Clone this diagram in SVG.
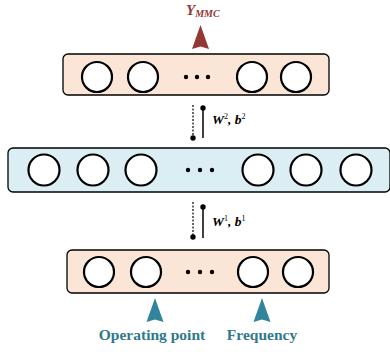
<svg xmlns="http://www.w3.org/2000/svg" width="390" height="352" viewBox="0 0 390 352">
<defs>
<style>
.box{stroke:#000;stroke-width:1.3}
.out{fill:#FBE5D6}
.hid{fill:#DAEEF3}
.n{fill:#fff;stroke:#000;stroke-width:2.2}
.d{fill:#000}
.lbl{font-family:"Liberation Serif",serif;font-weight:bold;font-style:italic;font-size:13.5px;fill:#000}
.in{font-family:"Liberation Serif",serif;font-weight:bold;font-size:15.5px;fill:#31798A}
</style>
</defs>
<g id="output-layer">
<rect class="box out" x="63" y="54" width="266" height="41" rx="5"/>
<circle class="n" cx="97" cy="77" r="15"/>
<circle class="n" cx="143" cy="77" r="15"/>
<circle class="d" cx="186" cy="77" r="2.2"/>
<circle class="d" cx="197" cy="77" r="2.2"/>
<circle class="d" cx="208" cy="77" r="2.2"/>
<circle class="n" cx="252" cy="77" r="15"/>
<circle class="n" cx="296" cy="77" r="15"/>
</g>
<g id="hidden-layer">
<rect class="box hid" x="8" y="148" width="382" height="44" rx="5"/>
<circle class="n" cx="44" cy="170" r="15.5"/>
<circle class="n" cx="93" cy="170" r="15.5"/>
<circle class="n" cx="141" cy="170" r="15.5"/>
<circle class="d" cx="188" cy="170" r="2.2"/>
<circle class="d" cx="200" cy="170" r="2.2"/>
<circle class="d" cx="212" cy="170" r="2.2"/>
<circle class="n" cx="258" cy="170" r="15.5"/>
<circle class="n" cx="306" cy="170" r="15.5"/>
<circle class="n" cx="356" cy="170" r="15.5"/>
</g>
<g id="input-layer">
<rect class="box out" x="67" y="250" width="262" height="43" rx="5"/>
<circle class="n" cx="99" cy="272" r="15"/>
<circle class="n" cx="146" cy="272" r="15"/>
<circle class="d" cx="188" cy="272" r="2.2"/>
<circle class="d" cx="200" cy="272" r="2.2"/>
<circle class="d" cx="212" cy="272" r="2.2"/>
<circle class="n" cx="253" cy="272" r="15"/>
<circle class="n" cx="298" cy="272" r="15"/>
</g>
<g id="output-label">
<path d="M200.5,25 L209,49 L200.5,46.5 L192,49 Z" fill="#953735"/>
<text x="186" y="15" font-family="Liberation Serif,serif" font-weight="bold" font-style="italic" fill="#953735"><tspan font-size="15">Y</tspan><tspan font-size="10" dy="2">MMC</tspan></text>
</g>
<g id="input-labels">
<path d="M155,298 L163.5,322 L155,319.5 L146.5,322 Z" fill="#31849B"/>
<path d="M262,298 L270.5,322 L262,319.5 L253.5,322 Z" fill="#31849B"/>
<text class="in" x="152" y="340" text-anchor="middle">Operating point</text>
<text class="in" x="262" y="340" text-anchor="middle">Frequency</text>
</g>
<g id="connectors">
<line x1="193" y1="105" x2="193" y2="138" stroke="#000" stroke-width="1.2" stroke-dasharray="2,1.5"/>
<circle class="d" cx="193" cy="138" r="2.7"/>
<line x1="203" y1="108" x2="203" y2="138" stroke="#000" stroke-width="1.5"/>
<circle class="d" cx="203" cy="108" r="2.7"/>
<text class="lbl" x="212" y="124">W<tspan font-size="8" dy="-5" font-style="normal" font-weight="normal">2</tspan><tspan dy="5">, b</tspan><tspan font-size="8" dy="-5" font-style="normal" font-weight="normal">2</tspan></text>
<line x1="193" y1="202" x2="193" y2="236" stroke="#000" stroke-width="1.2" stroke-dasharray="2,1.5"/>
<circle class="d" cx="193" cy="237" r="2.7"/>
<line x1="203" y1="207" x2="203" y2="238" stroke="#000" stroke-width="1.5"/>
<circle class="d" cx="203" cy="207" r="2.7"/>
<text class="lbl" x="212" y="226">W<tspan font-size="8" dy="-5" font-style="normal" font-weight="normal">1</tspan><tspan dy="5">, b</tspan><tspan font-size="8" dy="-5" font-style="normal" font-weight="normal">1</tspan></text>
</g>
</svg>
